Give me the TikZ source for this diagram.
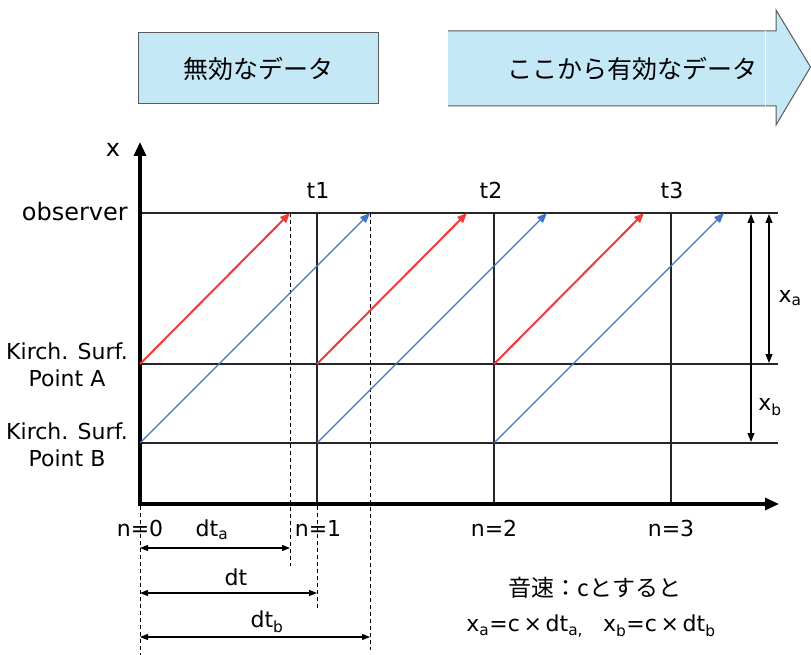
\documentclass[tikz,border=0pt]{standalone}
\usepackage{fontspec}
\setmainfont{DejaVu Sans}
\newfontfamily\jp{Noto Sans CJK JP}
\usetikzlibrary{arrows.meta}
\definecolor{boxblue}{RGB}{197,232,247}
\definecolor{boxedge}{RGB}{90,90,90}
\definecolor{redarr}{RGB}{240,58,58}
\definecolor{bluearr}{RGB}{68,114,196}
\begin{document}
\begin{tikzpicture}[x=1pt,y=-1pt,
  lbl/.style={font=\fontsize{22}{25}\selectfont, inner sep=0pt},
  jlbl/.style={font=\jp\fontsize{25}{29}\selectfont, inner sep=0pt},
  gridline/.style={line width=1.9pt, black!85},
  redray/.style={draw=redarr, line width=2pt, -{Triangle[length=10pt,width=8pt]}},
  blueray/.style={draw=bluearr, line width=1.2pt, -{Triangle[length=10pt,width=8pt]}},
  dashline/.style={line width=0.8pt, dash pattern=on 4pt off 3pt},
  dimarrow/.style={line width=1.1pt, {Triangle[length=8pt,width=6pt]}-{Triangle[length=8pt,width=6pt]}},
  vdim/.style={line width=1.1pt, {Triangle[length=9pt,width=7pt]}-{Triangle[length=9pt,width=7pt]}},
]
\useasboundingbox (0,0) rectangle (811,655);

% top banners
\node[draw=boxedge, fill=boxblue, line width=1pt, minimum width=240pt, minimum height=71pt, jlbl] (inv) at (258,68.5) {無効なデータ};
\fill[boxblue] (448,31) -- (776,31) -- (776,10) -- (810.5,67) -- (776,125) -- (776,106) -- (448,106) -- cycle;
\draw[boxedge, line width=1pt, line join=miter] (448,31) -- (776,31) -- (776,10) -- (810.5,67) -- (776,125) -- (776,106) -- (448,106);
\draw[white, line width=0.8pt] (765,31) -- (765,106);
\node[jlbl] (val) at (632,69) {ここから有効なデータ};

% coordinates
\coordinate (O) at (140,504);
\coordinate (ytop) at (140,142);
\coordinate (xend) at (779,504);
\coordinate (obsL) at (140,213);
\coordinate (obsR) at (778,213);
\coordinate (aL) at (140,364);
\coordinate (aR) at (778,364);
\coordinate (bL) at (140,443);
\coordinate (bR) at (778,443);
\coordinate (t1top) at (317,213);
\coordinate (t1bot) at (317,504);
\coordinate (t2top) at (494,213);
\coordinate (t2bot) at (494,504);
\coordinate (t3top) at (671,213);
\coordinate (t3bot) at (671,504);
\coordinate (t1a) at (317,364);
\coordinate (t2a) at (494,364);
\coordinate (t1b) at (317,443);
\coordinate (t2b) at (494,443);
\coordinate (ra0) at (290,213);
\coordinate (ra1) at (467,213);
\coordinate (ra2) at (644,213);
\coordinate (rb0) at (370,213);
\coordinate (rb1) at (547,213);
\coordinate (rb2) at (724,213);

% grid lines
\draw[gridline] (obsL) -- (obsR);
\draw[gridline] (aL) -- (aR);
\draw[gridline] (bL) -- (bR);
\draw[gridline] (t1top) -- (t1bot);
\draw[gridline] (t2top) -- (t2bot);
\draw[gridline] (t3top) -- (t3bot);

% axes
\draw[line width=3.2pt, line join=miter, {Triangle[length=14pt,width=12pt]}-{Triangle[length=14pt,width=12pt]}] (ytop) -- (O) -- (xend);

% dashed guides
\coordinate (da0) at (290,566);
\coordinate (db0) at (370,650);
\coordinate (n0top) at (140,506);
\coordinate (n0bot) at (140,655);
\coordinate (n1top) at (317,506);
\coordinate (n1bot) at (317,609);
\draw[dashline] (ra0) -- (da0);
\draw[dashline] (rb0) -- (db0);
\draw[dashline] (n0top) -- (n0bot);
\draw[dashline] (n1top) -- (n1bot);

% rays
\draw[redray] (aL) -- (ra0);
\draw[redray] (t1a) -- (ra1);
\draw[redray] (t2a) -- (ra2);
\draw[blueray] (bL) -- (rb0);
\draw[blueray] (t1b) -- (rb1);
\draw[blueray] (t2b) -- (rb2);

% axis labels
\node[lbl, font=\fontsize{24}{26}\selectfont] (xl) at (113,150) {x};
\node[lbl, anchor=east, font=\fontsize{24}{26}\selectfont] (obs) at (128,212) {observer};
\node[lbl, align=center] (pa) at (67,365) {Kirch. Surf.\\[2pt]Point A};
\node[lbl, align=center] (pb) at (67,445) {Kirch. Surf.\\[2pt]Point B};
\node[lbl] (t1) at (318,190) {t1};
\node[lbl] (t2) at (491,190) {t2};
\node[lbl] (t3) at (672,190) {t3};
\node[lbl] (n0) at (140,528) {n=0};
\node[lbl] (n1) at (318,528) {n=1};
\node[lbl] (n2) at (494,528) {n=2};
\node[lbl] (n3) at (671,528) {n=3};

% time dimension arrows
\coordinate (dta0) at (140,548);
\coordinate (dta1) at (290,548);
\coordinate (dt0) at (140,593);
\coordinate (dt1) at (317,593);
\coordinate (dtb0) at (140,637);
\coordinate (dtb1) at (370,637);
\draw[dimarrow] (dta0) -- (dta1);
\draw[dimarrow] (dt0) -- (dt1);
\draw[dimarrow] (dtb0) -- (dtb1);
\node[lbl] (dtal) at (212,530) {dt\textsubscript{a}};
\node[lbl] (dtl) at (236,577) {dt};
\node[lbl] (dtbl) at (267,622) {dt\textsubscript{b}};

% space dimension arrows
\coordinate (xa0) at (769,214);
\coordinate (xa1) at (769,363);
\coordinate (xb0) at (751,214);
\coordinate (xb1) at (751,442);
\draw[vdim] (xa0) -- (xa1);
\draw[vdim] (xb0) -- (xb1);
\node[lbl] (xal) at (790,298) {x\textsubscript{a}};
\node[lbl] (xbl) at (770,407) {x\textsubscript{b}};

% formula
\node[jlbl, font=\jp\fontsize{23}{27}\selectfont] (sp) at (595,588) {音速：cとすると};
\node[lbl] (fm) at (591,626) {x\textsubscript{a}=c\,×\,dt\textsubscript{a,}\hspace{20pt}x\textsubscript{b}=c\,×\,dt\textsubscript{b}};
\end{tikzpicture}
\end{document}
